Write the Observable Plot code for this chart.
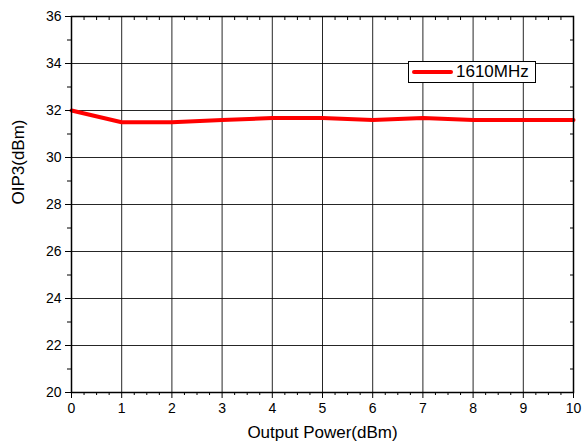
<!DOCTYPE html>
<html><head><meta charset="utf-8">
<script src="https://cdn.jsdelivr.net/npm/d3@7"></script>
<script src="https://cdn.jsdelivr.net/npm/@observablehq/plot@0.6"></script>
<style>
body{margin:0;background:#fff;font-family:"Liberation Sans",Arial,sans-serif;}
#wrap{position:relative;width:584px;height:446px;}
#legend{position:absolute;left:408px;top:61px;width:126px;height:20px;border:1px solid #000;background:#fff;display:flex;align-items:center;font-size:17px;color:#000;}
#legend .sw{width:41px;height:4px;background:#ff0000;margin-left:3px;margin-right:3px;border-radius:2px;}
</style></head>
<body><div id="wrap"><div id="legend"><span class="sw"></span><span id="lgtext"></span></div></div>
<script>
const outputPower = [0,1,2,3,4,5,6,7,8,9,10];
const oip3 = [32.0,31.5,31.5,31.6,31.68,31.68,31.6,31.68,31.6,31.6,31.6];
const xTicks = [0,1,2,3,4,5,6,7,8,9,10];
const yTicks = [20,22,24,26,28,30,32,34,36];
const seriesName = "1610MHz";
document.getElementById("lgtext").textContent = seriesName;

const data = outputPower.map((x,i)=>({x, y: oip3[i]}));
const xMinor = d3.range(0,10.001,0.25).filter(v=>Math.abs(v-Math.round(v))>1e-6);
const yMinor = d3.range(21,36,2);

const chart = Plot.plot({
  width:584, height:446,
  marginLeft:71, marginRight:11, marginTop:16, marginBottom:54,
  style:{fontFamily:"Liberation Sans, Arial, sans-serif", fontSize:"14px", color:"#000", background:"#fff"},
  x:{domain:[0,10]},
  y:{domain:[20,36]},
  marks:[
    Plot.gridX(xTicks,{stroke:"#000",strokeOpacity:0.85,strokeWidth:1}),
    Plot.gridY(yTicks,{stroke:"#000",strokeOpacity:0.85,strokeWidth:1}),
    Plot.line(data,{x:"x",y:"y",stroke:"#ff0000",strokeWidth:4,curve:"linear"}),
    Plot.frame({stroke:"#000",strokeWidth:1.5}),
    Plot.axisX(xTicks,{anchor:"bottom",tickSize:6,tickPadding:5,fontSize:14,label:null}),
    Plot.axisX(xMinor,{anchor:"bottom",tickSize:3,tickFormat:()=>"",label:null}),
    Plot.axisX(xMinor,{anchor:"top",tickSize:-3,tickFormat:()=>"",label:null}),
    Plot.axisY(yTicks,{anchor:"left",tickSize:6,tickPadding:4,fontSize:14,label:null}),
    Plot.axisY(yMinor,{anchor:"left",tickSize:4,tickFormat:()=>"",label:null}),
    Plot.axisY(yMinor,{anchor:"right",tickSize:-4,tickFormat:()=>"",label:null}),
    Plot.text(["Output Power(dBm)"],{frameAnchor:"bottom",dy:45,fontSize:17,fill:"#000"}),
    Plot.text(["OIP3(dBm)"],{frameAnchor:"left",dx:-53,rotate:-90,fontSize:17,fill:"#000"})
  ]
});
document.getElementById("wrap").prepend(chart);
</script>
</body></html>
